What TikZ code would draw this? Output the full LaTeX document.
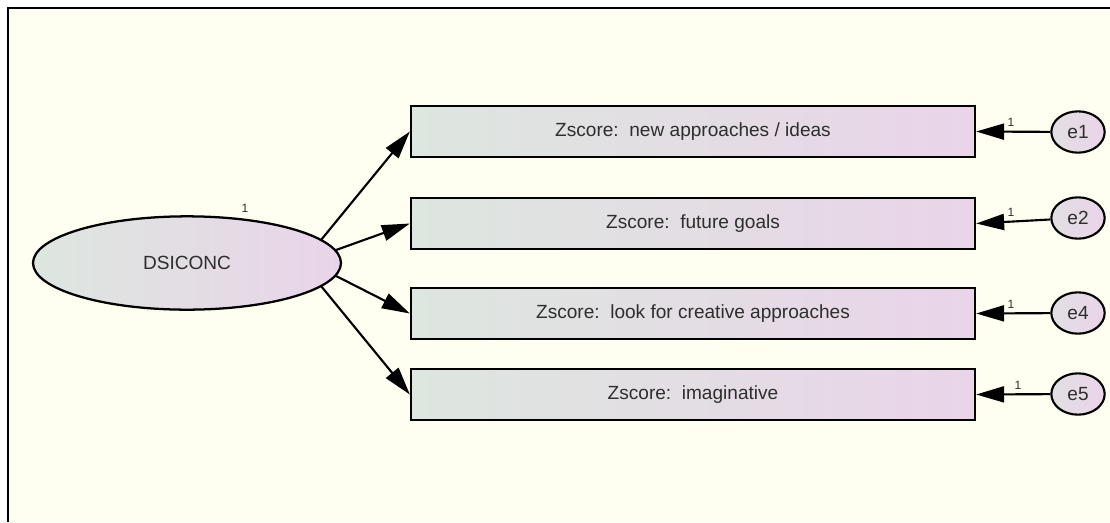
\documentclass[tikz,border=0pt]{standalone}
\usepackage{fontspec}
\setmainfont{Liberation Sans}
\usetikzlibrary{arrows.meta,shapes.geometric}
\definecolor{bgY}{HTML}{FEFFF0}
\definecolor{gL}{HTML}{DDE6DF}
\definecolor{gR}{HTML}{EAD4E9}
\definecolor{txt}{HTML}{2E2E2E}
\tikzset{
  obsbox/.style={rectangle, draw=black, line width=1.7pt, left color=gL, right color=gR,
    minimum width=423pt, minimum height=38pt, inner sep=0pt, text=txt,
    font=\fontsize{14.3}{17}\selectfont},
  latent/.style={ellipse, draw=black, line width=1.7pt, left color=gL, right color=gR,
    minimum width=231pt, minimum height=70pt, inner sep=0pt, text=txt,
    font=\fontsize{14.3}{17}\selectfont},
  errnode/.style={ellipse, draw=black, line width=1.6pt, left color=gL!60!gR, right color=gR,
    minimum width=40pt, minimum height=31pt, inner sep=0pt, text=txt,
    font=\fontsize{14.3}{17}\selectfont},
  path/.style={line width=1.6pt, -{Triangle[length=21pt,width=12pt]}},
  one/.style={font=\fontsize{9}{10}\selectfont, text=txt, inner sep=0pt}
}
\begin{document}
\begin{tikzpicture}[x=0.75pt,y=-0.75pt]
\useasboundingbox (0,0) rectangle (1110,522);
\fill[white] (0,0) rectangle (1110,522);
\fill[bgY] (8,8) rectangle (1110,522);
\draw[line width=1.7pt] (8,522) -- (8,8) -- (1110,8);

\node[latent] (dsi) at (187,263) {DSICONC};
\node[one] (l0) at (245,208) {1};

\node[obsbox] (b1) at (693,131.5) {Zscore:\ \ new approaches / ideas};
\node[obsbox] (b2) at (693,223.5) {Zscore:\ \ future goals};
\node[obsbox] (b3) at (693,313.5) {Zscore:\ \ look for creative approaches};
\node[obsbox] (b4) at (693,394.5) {Zscore:\ \ imaginative};

\node[errnode] (e1) at (1078,132) {e1};
\node[errnode] (e2) at (1078,218) {e2};
\node[errnode] (e4) at (1078,313) {e4};
\node[errnode] (e5) at (1078,394) {e5};

\draw[path] (dsi.10) -- (b1.west);
\draw[path] (dsi.5) -- (b2.west);
\draw[path] (dsi.-5) -- (b3.west);
\draw[path] (dsi.-10) -- (b4.west);

\draw[path] (e1) -- (b1.east);
\draw[path] (e2) -- (b2.east);
\draw[path] (e4) -- (b3.east);
\draw[path] (e5) -- (b4.east);

\node[one] (l1) at (1011,122) {1};
\node[one] (l2) at (1011,212) {1};
\node[one] (l4) at (1011,304) {1};
\node[one] (l5) at (1018,385) {1};
\end{tikzpicture}
\end{document}
